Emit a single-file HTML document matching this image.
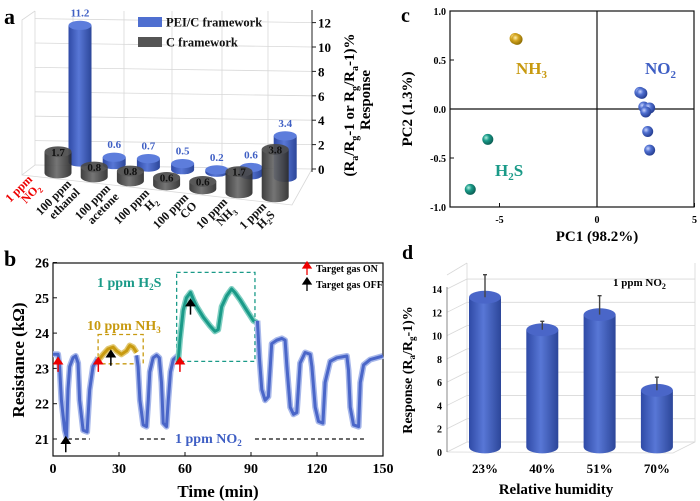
<!DOCTYPE html>
<html><head><meta charset="utf-8">
<style>
html,body{margin:0;padding:0;background:#fff;}
svg{display:block;font-family:"Liberation Serif",serif;font-weight:bold;}
</style></head>
<body>
<svg id="fig" width="700" height="501" viewBox="0 0 700 501" xmlns="http://www.w3.org/2000/svg">
<defs>
<linearGradient id="gBlue" x1="0" x2="1" y1="0" y2="0"><stop offset="0" stop-color="#2f4aa6"/><stop offset="0.45" stop-color="#5877d6"/><stop offset="1" stop-color="#2c4699"/></linearGradient>
<linearGradient id="gGray" x1="0" x2="1" y1="0" y2="0"><stop offset="0" stop-color="#2e2e2e"/><stop offset="0.45" stop-color="#6a6a6a"/><stop offset="1" stop-color="#2a2a2a"/></linearGradient>
<radialGradient id="sBlue" cx="0.35" cy="0.35" r="0.7"><stop offset="0" stop-color="#c8d4ff"/><stop offset="0.4" stop-color="#4f6fd0"/><stop offset="1" stop-color="#223a8c"/></radialGradient>
<radialGradient id="sGold" cx="0.35" cy="0.35" r="0.7"><stop offset="0" stop-color="#fff0b0"/><stop offset="0.4" stop-color="#d4a520"/><stop offset="1" stop-color="#8a6a00"/></radialGradient>
<radialGradient id="sTeal" cx="0.35" cy="0.35" r="0.7"><stop offset="0" stop-color="#b0f0e0"/><stop offset="0.4" stop-color="#1a9a88"/><stop offset="1" stop-color="#0a5a50"/></radialGradient>
</defs>

<!-- ============ PANEL A ============ -->
<g id="panelA">
<text x="4" y="24" font-size="22">a</text>
<g id="aGrid" stroke="#d8d8d8" stroke-width="0.8" fill="none"></g>
<line x1="312" y1="10" x2="312" y2="172" stroke="#222" stroke-width="1"/>
<g id="aTicks"></g>
<g id="aBars"></g>
<g id="aCats"></g>
<rect x="138" y="17" width="24" height="10" fill="#4f6fd0"/>
<text x="166" y="26.5" font-size="12.5" fill="#111">PEI/C framework</text>
<rect x="138" y="37" width="24" height="10" fill="#555"/>
<text x="166" y="46.5" font-size="12.5" fill="#111">C framework</text>
<text transform="translate(354,105) rotate(-90)" text-anchor="middle" font-size="15">(R<tspan font-size="10" dy="4">a</tspan><tspan dy="-4">/R</tspan><tspan font-size="10" dy="4">g</tspan><tspan dy="-4">-1 or R</tspan><tspan font-size="10" dy="4">g</tspan><tspan dy="-4">/R</tspan><tspan font-size="10" dy="4">a</tspan><tspan dy="-4">-1)%</tspan></text>
<text transform="translate(370,100) rotate(-90)" text-anchor="middle" font-size="15">Response</text>
</g>

<!-- ============ PANEL B ============ -->
<g id="panelB">
<text x="4" y="266" font-size="22">b</text>
<rect x="53" y="263" width="330" height="193" fill="none" stroke="#111" stroke-width="1.2"/>
<g id="bTicks"></g>
<g id="bDeco"></g>
<g id="bLines"></g>
<g id="bArrows"></g>
<text x="97" y="287" font-size="14" fill="#1a9a88">1 ppm H<tspan font-size="9" dy="3">2</tspan><tspan dy="-3">S</tspan></text>
<text x="87" y="330" font-size="14" fill="#c89a10">10 ppm NH<tspan font-size="9" dy="3">3</tspan></text>
<text x="175" y="443" font-size="14" fill="#3f5fc4">1 ppm NO<tspan font-size="9" dy="3">2</tspan></text>
<path d="M307,275 L307,263 M303,268 L307,262 L311,268 Z" stroke="#e00" fill="#e00" stroke-width="1.3"/>
<text x="316" y="272" font-size="10">Target gas ON</text>
<path d="M307,291 L307,279 M303,284 L307,278 L311,284 Z" stroke="#000" fill="#000" stroke-width="1.3"/>
<text x="316" y="288" font-size="10">Target gas OFF</text>
<text transform="translate(24,360) rotate(-90)" text-anchor="middle" font-size="17">Resistance (kΩ)</text>
<text x="218" y="497" text-anchor="middle" font-size="17">Time (min)</text>
</g>

<!-- ============ PANEL C ============ -->
<g id="panelC">
<text x="401" y="22" font-size="20">c</text>
<rect x="450" y="11" width="244" height="196" fill="none" stroke="#111" stroke-width="1.2"/>
<g id="cTicks"></g>
<g id="cPts"></g>
<text x="516" y="74" font-size="17" fill="#c89a10">NH<tspan font-size="11" dy="4">3</tspan></text>
<text x="645" y="74" font-size="17" fill="#3f5fc4">NO<tspan font-size="11" dy="4">2</tspan></text>
<text x="495" y="176" font-size="17" fill="#1a9a88">H<tspan font-size="11" dy="4">2</tspan><tspan dy="-4">S</tspan></text>
<text transform="translate(412,109) rotate(-90)" text-anchor="middle" font-size="15">PC2 (1.3%)</text>
<text x="597" y="241" text-anchor="middle" font-size="15">PC1 (98.2%)</text>
</g>

<!-- ============ PANEL D ============ -->
<g id="panelD">
<text x="402" y="259" font-size="20">d</text>
<g id="dWalls" stroke="#d8d8d8" stroke-width="0.8" fill="none"></g>
<g id="dTicks"></g>
<g id="dBars"></g>
<text x="613" y="286" font-size="11">1 ppm NO<tspan font-size="8" dy="3">2</tspan></text>
<text transform="translate(412,370) rotate(-90)" text-anchor="middle" font-size="14">Response (R<tspan font-size="9" dy="3">a</tspan><tspan dy="-3">/R</tspan><tspan font-size="9" dy="3">g</tspan><tspan dy="-3">-1)%</tspan></text>
<text x="556" y="494" text-anchor="middle" font-size="15">Relative humidity</text>
</g>
</svg>

<script>
// ---------- Panel A data ----------
const aCategories = [["1 ppm","NO","2"],["100 ppm","ethanol",""],["100 ppm","acetone",""],["100 ppm","H","2"],["100 ppm","CO",""],["10 ppm","NH","3"],["1 ppm","H","2S"]];
const aPeiValues = [11.2, 0.6, 0.7, 0.5, 0.2, 0.6, 3.4];
const aCValues = [1.7, 0.8, 0.8, 0.6, 0.6, 1.7, 3.8];
const aTickLabels = [0, 2, 4, 6, 8, 10, 12];

// ---------- Panel B data (time min, resistance kOhm) ----------
const bTimeNO2a = [0,2.3,3,3.8,5.3,6.1,6.8,7.6,9.1,10.3,11.4,12.1,13.7,15.5,16.7,18.2,20.5];
const bResNO2a  = [23.4,23.4,23.04,22.1,21.25,21.06,22.4,23.05,23.3,23.35,23.15,22.1,21.25,21.2,22.4,23.05,23.3];
const bTimeNH3 = [20.5,22.8,25,27.3,28.8,31.1,33.4,34.9,36.4,38];
const bResNH3  = [23.22,23.4,23.55,23.6,23.5,23.4,23.5,23.65,23.6,23.45];
const bTimeNO2b = [38,38.7,39.5,41,42.5,43.3,44,45.5,47.1,48.3,49.3,50.1,51.6,52.4,53.4,54.7,56.9];
const bResNO2b  = [23.37,23.05,22.1,21.4,21.35,22.1,22.9,23.3,23.37,23.3,22.6,21.45,21.35,22.1,22.9,23.25,23.37];
const bTimeH2S = [56.9,57.7,59.2,60.7,62.5,63.8,65.3,68.3,71.4,73.6,75.1,76.7,78.9,81.2,82.7,85,88,91.1,92.6];
const bResH2S  = [23.2,23.8,24.65,25.0,25.15,24.95,24.75,24.45,24.2,24.05,24.1,24.75,25.05,25.25,25.15,24.95,24.65,24.35,24.3];
const bTimeNO2c = [92.9,93.8,94.9,96.4,97.9,99.4,101.7,104,105.5,106.3,107.8,109.3,110.8,112.3,114.6,116.9,117.7,119.2,120.7,122.7,123.7,126,129,133.6,134.3,135.1,136.6,138.9,139.7,141.2,144.2,150];
const bResNO2c  = [24.35,23.3,22.4,22.1,22.2,23.7,23.8,23.85,23.8,23.05,21.9,21.7,21.75,23.15,23.45,23.4,23.05,21.9,21.5,21.45,22.6,23.2,23.3,23.35,22.95,21.9,21.4,21.35,22.6,23.1,23.25,23.35];
const bXTicks = [0,30,60,90,120,150];
const bYTicks = [21,22,23,24,25,26];
const bOnTimes = [2.3, 20.6, 57.7];
const bOffTimes = [5.8, 26.3, 62.5];
const bOffRes = [21.05, 23.5, 24.95];

// ---------- Panel C data ----------
const cNH3x = [-4.2, -4.1];
const cNH3y = [0.72, 0.71];
const cH2Sx = [-5.6, -6.5];
const cH2Sy = [-0.31, -0.82];
const cNO2x = [2.2, 2.3, 2.4, 2.6, 2.7, 2.5, 2.6, 2.7];
const cNO2y = [0.17, 0.16, 0.02, 0.0, 0.01, -0.03, -0.23, -0.42];
const cXTicks = [-5, 0, 5];
const cYTicks = [-1.0, -0.5, 0.0, 0.5, 1.0];

// ---------- Panel D data ----------
const dCategories = ["23%", "40%", "51%", "70%"];
const dValues = [13.3, 10.5, 11.8, 5.3];
const dErrors = [1.5, 0.3, 1.2, 0.7];
const dTicks = [0, 2, 4, 6, 8, 10, 12, 14];

const NS = "http://www.w3.org/2000/svg";
function mk(tag, attrs, parent) {
  const e = document.createElementNS(NS, tag);
  for (const k in attrs) e.setAttribute(k, attrs[k]);
  parent.appendChild(e);
  return e;
}
function cyl(parent, cx, base, h, w, fill, topFill, opacity) {
  const g = mk("g", {opacity: opacity}, parent);
  const rx = w / 2, ry = w * 0.2;
  mk("path", {d: `M${cx-rx},${base-h} L${cx-rx},${base} A${rx},${ry} 0 0 0 ${cx+rx},${base} L${cx+rx},${base-h} Z`, fill: fill}, g);
  mk("ellipse", {cx: cx, cy: base - h, rx: rx, ry: ry, fill: topFill}, g);
  return g;
}

// ===== Panel A =====
(function(){
  const yA = v => 169 - v * 12.2;
  const grid = document.getElementById("aGrid");
  [35,73,124,172,222,268,312].forEach(x => mk("line",{x1:x,y1:11,x2:x,y2:165+(x-35)*0.015},grid));
  aTickLabels.forEach(v => mk("line",{x1:35,y1:yA(v)-4,x2:312,y2:yA(v)},grid));
  mk("path",{d:"M35,11 L22,20 L22,175 L35,165 M22,175 L292,205 L312,169"},grid);
  const ticks = document.getElementById("aTicks");
  aTickLabels.forEach(v => {
    mk("line",{x1:312,y1:yA(v),x2:316,y2:yA(v),stroke:"#222"},ticks);
    const t = mk("text",{x:318,y:yA(v)+5,"font-size":13},ticks);
    t.textContent = v;
  });
  const bars = document.getElementById("aBars");
  aPeiValues.forEach((v,i) => {
    const cx = 80 + i*34.2, base = 162 + (cx-80)*0.075;
    const g = cyl(bars, cx, base, v*12.2, 23, "url(#gBlue)", "#5d7ddc", 1);
    
    
    const t = mk("text",{x:cx,y:base-v*12.2-9,"text-anchor":"middle","font-size":11,fill:"#3f5fc4"},bars);
    t.textContent = v.toFixed(1);
  });
  aCValues.forEach((v,i) => {
    const cx = 58 + i*36.2, base = 173 + (cx-58)*0.11;
    const g = cyl(bars, cx, base, v*12.5, 27, "url(#gGray)", "#4a4a4a", 0.92);
    
    
    const t = mk("text",{x:cx,y:base-v*12.5+4,"text-anchor":"middle","font-size":11,fill:"#111"},bars);
    t.textContent = v.toFixed(1);
  });
  const cats = document.getElementById("aCats");
  aCategories.forEach((c,i) => {
    const x = 33 + i*39, y = 180 + i*4.5;
    const col = i === 0 ? "#e00" : "#111";
    const g = mk("g",{transform:`translate(${x},${y}) rotate(-45)`,fill:col,"font-size":12},cats);
    
    
    const t1 = mk("text",{x:0,y:0,"text-anchor":"end"},g);
    t1.textContent = c[0];
    const t2 = mk("text",{x:0,y:12,"text-anchor":"end"},g);
    if (c[2]) {
      t2.appendChild(document.createTextNode(c[1]));
      const s = mk("tspan",{"font-size":8,dy:3},t2);
      s.textContent = c[2].charAt(0);
      if (c[2].length > 1) { const s2 = mk("tspan",{dy:-3},t2); s2.textContent = c[2].slice(1); }
    } else t2.textContent = c[1];
  });
})();

// ===== Panel B =====
(function(){
  const xB = t => 53 + t*2.2;
  const yB = r => 439 - (r-21)*35.3;
  const ticks = document.getElementById("bTicks");
  bXTicks.forEach(v => {
    mk("line",{x1:xB(v),y1:456,x2:xB(v),y2:452,stroke:"#111"},ticks);
    const t = mk("text",{x:xB(v),y:473,"text-anchor":"middle","font-size":14},ticks); t.textContent = v;
  });
  bYTicks.forEach(v => {
    mk("line",{x1:53,y1:yB(v),x2:57,y2:yB(v),stroke:"#111"},ticks);
    const t = mk("text",{x:49,y:yB(v)+5,"text-anchor":"end","font-size":14},ticks); t.textContent = v;
  });
  const deco = document.getElementById("bDeco");
  mk("rect",{x:xB(20.5),y:yB(23.96),width:xB(41)-xB(20.5),height:yB(23.13)-yB(23.96),fill:"none",stroke:"#c89a10","stroke-dasharray":"4,3","stroke-width":1.3},deco);
  mk("rect",{x:xB(56.2),y:yB(25.72),width:xB(91.8)-xB(56.2),height:yB(23.2)-yB(25.72),fill:"none",stroke:"#1a9a88","stroke-dasharray":"4,3","stroke-width":1.3},deco);
  [[6.8,16.7],[39.5,50.9],[91.8,142]].forEach(s => mk("line",{x1:xB(s[0]),y1:yB(21.0),x2:xB(s[1]),y2:yB(21.0),stroke:"#111","stroke-dasharray":"4,3","stroke-width":1.2},deco));
  const lines = document.getElementById("bLines");
  function series(ts, rs, col, light, name) {
    const pts = ts.map((t,i) => xB(t).toFixed(1)+","+yB(rs[i]).toFixed(1)).join(" ");
    const g = mk("g",{},lines);
    
    
    mk("polyline",{points:pts,fill:"none",stroke:light,"stroke-width":6,"stroke-linejoin":"round"},g);
    mk("polyline",{points:pts,fill:"none",stroke:col,"stroke-width":3,"stroke-linejoin":"round"},g);
  }
  series(bTimeNO2a,bResNO2a,"#4a66c8","#a8b8ea","series-no2-1");
  series(bTimeNH3,bResNH3,"#c89a10","#e2c870","series-nh3");
  series(bTimeNO2b,bResNO2b,"#4a66c8","#a8b8ea","series-no2-2");
  series(bTimeH2S,bResH2S,"#1a9a88","#80cfc2","series-h2s");
  series(bTimeNO2c,bResNO2c,"#4a66c8","#a8b8ea","series-no2-3");
  const ar = document.getElementById("bArrows");
  bOnTimes.forEach((t,i) => {
    const x = xB(t), y0 = yB(22.9), y1 = yB(23.3);
    const p = mk("path",{d:`M${x},${y0} L${x},${y1} M${x-4},${y1+6} L${x},${y1} L${x+4},${y1+6} Z`,stroke:"#e00",fill:"#e00","stroke-width":1.5},ar);
    
    
  });
  bOffTimes.forEach((t,i) => {
    const x = xB(t), y1 = yB(bOffRes[i]), y0 = y1 + 15;
    const p = mk("path",{d:`M${x},${y0} L${x},${y1} M${x-4},${y1+6} L${x},${y1} L${x+4},${y1+6} Z`,stroke:"#000",fill:"#000","stroke-width":1.5},ar);
    
    
  });
})();

// ===== Panel C =====
(function(){
  const xC = v => 597 + v*19.5;
  const yC = v => 109 - v*98;
  const ticks = document.getElementById("cTicks");
  mk("line",{x1:450,y1:yC(0),x2:694,y2:yC(0),stroke:"#111","stroke-width":1.2},ticks);
  mk("line",{x1:xC(0),y1:11,x2:xC(0),y2:207,stroke:"#111","stroke-width":1.2},ticks);
  cXTicks.forEach(v => {
    mk("line",{x1:xC(v),y1:207,x2:xC(v),y2:203,stroke:"#111"},ticks);
    const t = mk("text",{x:xC(v),y:223,"text-anchor":"middle","font-size":10},ticks); t.textContent = v;
  });
  cYTicks.forEach(v => {
    mk("line",{x1:450,y1:yC(v),x2:454,y2:yC(v),stroke:"#111"},ticks);
    const t = mk("text",{x:446,y:yC(v)+4,"text-anchor":"end","font-size":10},ticks); t.textContent = v.toFixed(1);
  });
  const pts = document.getElementById("cPts");
  function sc(xs, ys, fill, name) {
    xs.forEach((x,i) => {
      const c = mk("circle",{cx:xC(x),cy:yC(ys[i]),r:5.5,fill:fill},pts);
      
      
    });
  }
  sc(cNH3x,cNH3y,"url(#sGold)","point-nh3");
  sc(cH2Sx,cH2Sy,"url(#sTeal)","point-h2s");
  sc(cNO2x,cNO2y,"url(#sBlue)","point-no2");
})();

// ===== Panel D =====
(function(){
  const yD = v => 452 - v*11.64;
  const walls = document.getElementById("dWalls");
  dTicks.forEach(v => {
    mk("line",{x1:447,y1:yD(v),x2:467,y2:yD(v)-10},walls);
    mk("line",{x1:467,y1:yD(v)-10,x2:695,y2:yD(v)-10},walls);
  });
  mk("path",{d:"M467,263 L467,442 L695,442 L695,263 M447,452 L673,453 L695,442 M447,275 L467,263"},walls);
  const ticks = document.getElementById("dTicks");
  mk("line",{x1:447,y1:yD(0),x2:447,y2:yD(14)-2,stroke:"#888"},ticks);
  dTicks.forEach(v => {
    const t = mk("text",{x:442,y:yD(v)+4,"text-anchor":"end","font-size":10},ticks); t.textContent = v;
  });
  const bars = document.getElementById("dBars");
  dCategories.forEach((c,i) => {
    const cx = 485 + i*57.3;
    const base = 447;
    const h = dValues[i]*11.64 - 5;
    const g = cyl(bars, cx, base, h, 32, "url(#gBlue)", "#4a66c8", 1);
    
    
    const top = base - h, et = yD(dValues[i] + dErrors[i]) - 5;
    const e = mk("path",{d:`M${cx},${top} L${cx},${et} M${cx-2},${et} L${cx+2},${et}`,stroke:"#444","stroke-width":1.4},bars);
    
    
    const t = mk("text",{x:cx,y:473,"text-anchor":"middle","font-size":13},bars); t.textContent = c;
  });
})();
</script>
</body></html>
